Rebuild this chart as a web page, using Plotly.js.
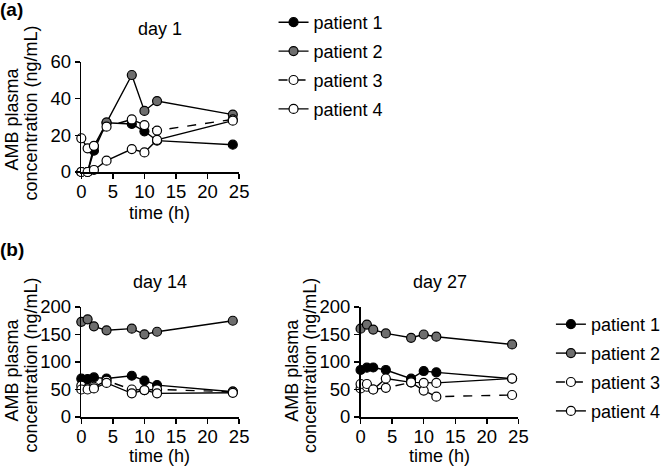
<!DOCTYPE html>
<html>
<head>
<meta charset="utf-8">
<script src="https://cdn.plot.ly/plotly-3.0.1.min.js"></script>
<style>html,body{margin:0;padding:0;background:#fff;}#chart{width:666px;height:466px;}</style>
</head>
<body>
<div id="chart"></div>
<script>
const times = [0, 1, 2, 4, 8, 10, 12, 24];
const patientNames = ["patient 1", "patient 2", "patient 3", "patient 4"];

// day 1
const day1_p1 = [0, 0, 11.6, 26.9, 26.2, 22.2, 17.1, 14.9];
const day1_p2 = [0, 0, 14, 27, 52.9, 33.3, 38.7, 31.3];
const day1_p3 = [18.4, 12.9, 14.3, 24.7, 28.7, 25.6, 22.6, 28.7];
const day1_p4 = [0, 0, 1.1, 6.2, 12.5, 10.7, 17.5, 28];

// day 14
const day14_p1 = [69.7, 69, 72, 70, 75, 66, 58, 46];
const day14_p2 = [173, 177.6, 164.8, 157.6, 160.6, 150.3, 155, 175];
const day14_p3 = [57, 52, 55, 66, 50, 49, 50, 46];
const day14_p4 = [50, 50, 52, 62, 43, 49, 43, 44];

// day 27
const day27_p1 = [85.5, 89.7, 90, 85.5, 69.7, 83.6, 81.2, 69.7];
const day27_p2 = [160.6, 168, 159, 152, 144, 150, 146, 132];
const day27_p3 = [52, 55, 50, 53, 63, 48, 37, 40];
const day27_p4 = [60, 60, 50, 70, 63, 62, 62, 70];

const panelTitles = ["day 1", "day 14", "day 27"];
const yTitle = ["AMB plasma", "concentration (ng/mL)"];
const xTitle = "time (h)";
const ticksA = [0, 20, 40, 60];
const ticksB = [0, 50, 100, 150, 200];
const xTicks = [0, 5, 10, 15, 20, 25];

const FONT = "Liberation Sans, Arial, sans-serif";
const styles = [
  {fill: "#000000", dash: "solid"},
  {fill: "#6e6e6e", dash: "solid"},
  {fill: "#ffffff", dash: "dash"},
  {fill: "#ffffff", dash: "solid"}
];

function mk(ys, i, xa, ya, legend, group) {
  return {
    x: times, y: ys, type: "scatter", mode: "lines+markers",
    xaxis: xa, yaxis: ya, name: patientNames[i],
    legend: legend || "legend", showlegend: !!legend,
    legendgroup: group + i,
    cliponaxis: false,
    line: {color: "#000", width: 1.4, dash: styles[i].dash},
    marker: {symbol: "circle", size: 9, color: styles[i].fill, line: {color: "#000", width: 1.2}}
  };
}

const traces = [];
const d1 = [day1_p1, day1_p2, day1_p3, day1_p4];
const d14 = [day14_p1, day14_p2, day14_p3, day14_p4];
const d27 = [day27_p1, day27_p2, day27_p3, day27_p4];
for (let i = 0; i < 4; i++) traces.push(mk(d1[i], i, "x", "y", "legend", "a"));
for (let i = 0; i < 4; i++) traces.push(mk(d14[i], i, "x2", "y2", null, "b"));
for (let i = 0; i < 4; i++) traces.push(mk(d27[i], i, "x3", "y3", "legend2", "c"));

function xaxis(domain, anchor) {
  return {
    domain: domain, anchor: anchor, range: [0, 25], tickvals: xTicks,
    showline: true, linecolor: "#000", linewidth: 1.5, ticks: "outside",
    ticklen: 5, tickwidth: 1.5, tickcolor: "#000", showgrid: false, zeroline: false,
    tickfont: {family: FONT, size: 18.5, color: "#000"}, ticklabelstandoff: -3, fixedrange: true
  };
}
function yaxis(domain, anchor, range, tv) {
  return {
    domain: domain, anchor: anchor, range: range, tickvals: tv,
    showline: true, linecolor: "#000", linewidth: 1.5, ticks: "outside",
    ticklen: 5, tickwidth: 1.5, tickcolor: "#000", showgrid: false, zeroline: false,
    tickfont: {family: FONT, size: 18.5, color: "#000"}, ticklabelstandoff: 0, fixedrange: true
  };
}

const W = 666, H = 466;
const px = v => v / W, py = v => 1 - v / H;

const annotations = [];
function txt(text, x, y, opts) {
  annotations.push(Object.assign({
    text: text, x: px(x), y: py(y), xref: "paper", yref: "paper",
    showarrow: false, xanchor: "center", yanchor: "middle",
    font: {family: FONT, size: 18, color: "#000"}
  }, opts || {}));
}
txt("<b>(a)</b>", -2, 10, {xanchor: "left", font: {family: FONT, size: 19, color: "#000"}});
txt("<b>(b)</b>", -2, 250, {xanchor: "left", font: {family: FONT, size: 19, color: "#000"}});
txt(panelTitles[0], 167, 29);
txt(panelTitles[1], 167, 282);
txt(panelTitles[2], 460, 282);
txt(xTitle, 167, 213);
txt(xTitle, 167, 456);
txt(xTitle, 460, 456);
function ytitle(axisX, cyA, cyC) {
  txt(yTitle[0], axisX - 72, cyA, {textangle: -90});
  txt(yTitle[1], axisX - 53, cyC, {textangle: -90});
}
ytitle(85, 119, 113);
ytitle(85, 370, 365);
ytitle(377, 370, 365);

const legendBase = {
  font: {family: FONT, size: 18, color: "#000"},
  bgcolor: "rgba(0,0,0,0)", borderwidth: 0,
  xanchor: "left", yanchor: "top", tracegroupgap: 2.5, traceorder: "grouped",
  itemwidth: 30
};

const layout = {
  width: W, height: H,
  margin: {l: 0, r: 0, t: 0, b: 0},
  paper_bgcolor: "#fff", plot_bgcolor: "#fff",
  font: {family: FONT, size: 18, color: "#000"},
  xaxis: xaxis([px(85), px(250)], "y"),
  yaxis: yaxis([py(172), py(62)], "x", [0, 60], ticksA),
  xaxis2: xaxis([px(85), px(250)], "y2"),
  yaxis2: yaxis([py(417), py(307)], "x2", [0, 200], ticksB),
  xaxis3: xaxis([px(377), px(542)], "y3"),
  yaxis3: yaxis([py(417), py(307)], "x3", [0, 200], ticksB),
  legend: Object.assign({}, legendBase, {x: px(286), y: py(4)}),
  legend2: Object.assign({}, legendBase, {x: px(576), y: py(306)}),
  annotations: annotations,
  showlegend: true
};

Plotly.newPlot("chart", traces, layout, {displayModeBar: false, staticPlot: true});
</script>
</body>
</html>
